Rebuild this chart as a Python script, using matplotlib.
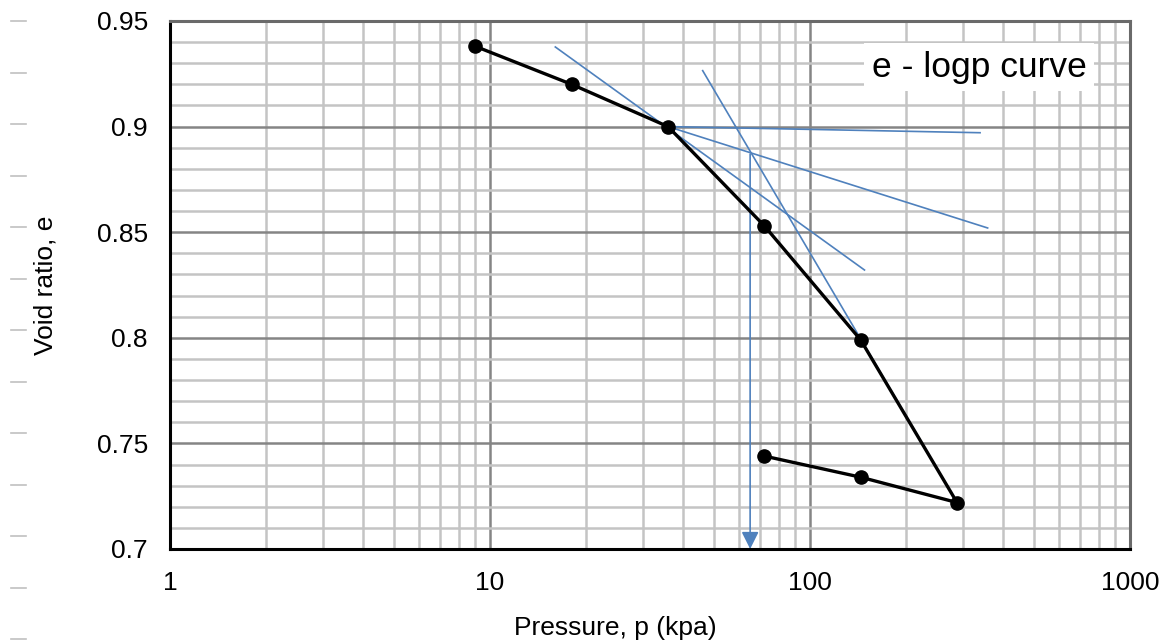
import matplotlib
matplotlib.use("Agg")
import matplotlib.pyplot as plt
from matplotlib.lines import Line2D
from matplotlib.ticker import LogLocator, MultipleLocator, FixedLocator, FixedFormatter

plt.rcParams['font.family'] = ['Liberation Sans', 'DejaVu Sans']

# Consolidation test data (loading then unloading)
pressure = [9, 18, 36, 72, 144, 288, 144, 72]
void_ratio = [0.938, 0.920, 0.900, 0.853, 0.799, 0.722, 0.734, 0.744]

# Casagrande construction lines (blue)
tangent_p = [16, 148]
tangent_e = [0.9377, 0.8321]
horizontal_p = [36, 340]
horizontal_e = [0.900, 0.8971]
bisector_p = [36, 359]
bisector_e = [0.900, 0.852]
virgin_p = [46.2, 288]
virgin_e = [0.9265, 0.722]
preconsol_p = 65
preconsol_e_top = 0.887

x_ticks = [1, 10, 100, 1000]
x_ticklabels = ['1', '10', '100', '1000']
y_ticks = [0.7, 0.75, 0.8, 0.85, 0.9, 0.95]
y_ticklabels = ['0.7', '0.75', '0.8', '0.85', '0.9', '0.95']

W, H = 1165, 644
fig = plt.figure(figsize=(W / 100, H / 100), dpi=100)
ax = fig.add_axes([170 / W, 1 - 549 / H, (1130 - 170) / W, (549 - 21) / H])

ax.set_xscale('log')
ax.set_xlim(1, 1000)
ax.set_ylim(0.7, 0.95)

ax.xaxis.set_major_locator(FixedLocator(x_ticks))
ax.xaxis.set_major_formatter(FixedFormatter(x_ticklabels))
ax.xaxis.set_minor_locator(LogLocator(base=10, subs=range(2, 10)))
ax.xaxis.set_minor_formatter(FixedFormatter([]))
ax.yaxis.set_major_locator(FixedLocator(y_ticks))
ax.yaxis.set_major_formatter(FixedFormatter(y_ticklabels))
ax.yaxis.set_minor_locator(MultipleLocator(0.01))

ax.grid(which='major', color='#858585', linewidth=1.8)
ax.grid(which='minor', color='#c4c4c4', linewidth=1.8)
ax.set_axisbelow(True)

ax.tick_params(which='both', length=0, labelsize=19, colors='black')
ax.tick_params(axis='y', pad=16)
ax.tick_params(axis='x', pad=16)

for s in ['left', 'bottom']:
    ax.spines[s].set_color('black')
    ax.spines[s].set_linewidth(2.2)
for s in ['top', 'right']:
    ax.spines[s].set_color('#6a6a6a')
    ax.spines[s].set_linewidth(2.2)

blue = '#4F81BD'
ax.plot(tangent_p, tangent_e, color=blue, lw=1.2, zorder=3)
ax.plot(horizontal_p, horizontal_e, color=blue, lw=1.2, zorder=3)
ax.plot(bisector_p, bisector_e, color=blue, lw=1.2, zorder=3)
ax.plot(virgin_p, virgin_e, color=blue, lw=1.2, zorder=3)
ax.annotate('', xy=(preconsol_p, 0.7), xytext=(preconsol_p, preconsol_e_top),
            arrowprops=dict(arrowstyle='-|>', color=blue, lw=1.2,
                            mutation_scale=26, shrinkA=0, shrinkB=0),
            zorder=3)

ax.plot(pressure, void_ratio, color='black', lw=2.4, marker='o', markersize=9.5,
        zorder=4)

ax.text((979 - 170) / 960, 1 - (67 - 21) / 528, 'e - logp curve', transform=ax.transAxes,
        fontsize=25.5, ha='center', va='center', color='black', zorder=5,
        bbox=dict(facecolor='white', edgecolor='none', pad=5))

ax.set_xlabel('Pressure, p (kpa)', fontsize=19)
ax.xaxis.set_label_coords((615 - 170) / 960, -(616 - 549) / 528)
ax.set_ylabel('Void ratio, e', fontsize=19)
ax.yaxis.set_label_coords(-(170 - 58) / 960, 0.5)

# faint margin marks at the left edge of the page
for i in range(13):
    yy = 21 + i * 51.5
    fig.add_artist(Line2D([11 / W, 26 / W], [1 - yy / H, 1 - yy / H],
                          color='#c0c0c0', lw=1.2, transform=fig.transFigure))

fig.savefig('out.png', dpi=100)
